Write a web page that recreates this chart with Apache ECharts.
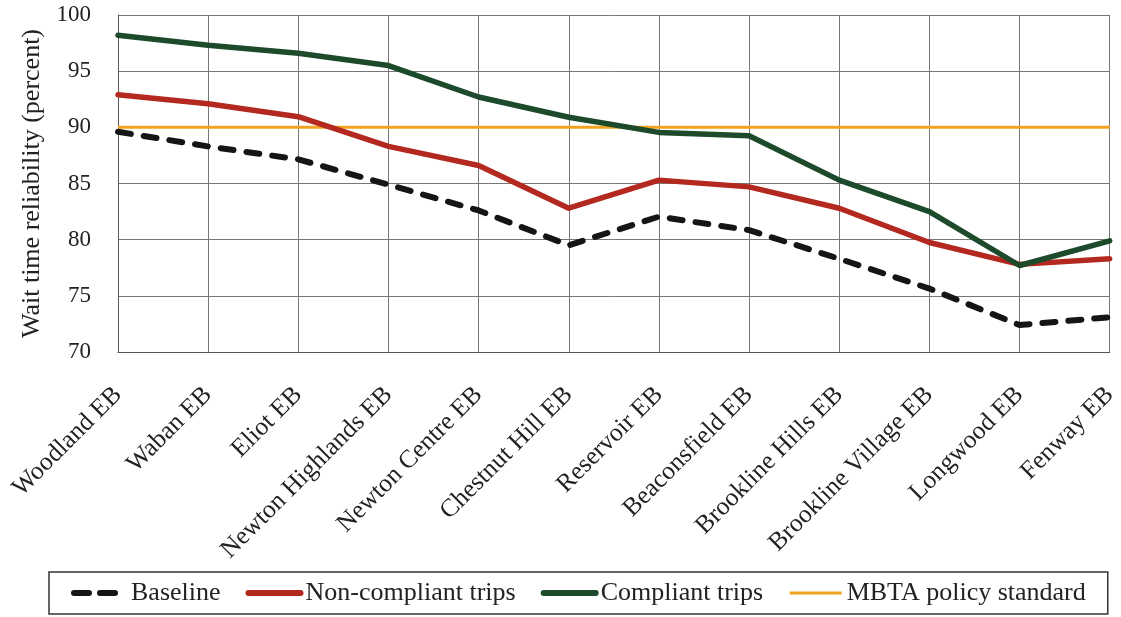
<!DOCTYPE html>
<html>
<head>
<meta charset="utf-8">
<script src="https://cdn.jsdelivr.net/npm/echarts@6/dist/echarts.min.js"></script>
<style>
html,body{margin:0;padding:0;background:#fff;}
#chart{width:1121px;height:617px;}
</style>
</head>
<body>
<div id="chart"></div>
<script>
var categories = ["Woodland EB","Waban EB","Eliot EB","Newton Highlands EB","Newton Centre EB","Chestnut Hill EB","Reservoir EB","Beaconsfield EB","Brookline Hills EB","Brookline Village EB","Longwood EB","Fenway EB"];
var baseline = [89.6, 88.3, 87.15, 84.9, 82.6, 79.5, 82.05, 80.85, 78.3, 75.65, 72.4, 73.1];
var nonCompliant = [92.9, 92.1, 90.95, 88.3, 86.6, 82.8, 85.3, 84.7, 82.8, 79.75, 77.8, 78.3];
var compliant = [98.2, 97.3, 96.6, 95.5, 92.7, 90.9, 89.55, 89.25, 85.3, 82.5, 77.7, 79.9];
var policy = [90, 90, 90, 90, 90, 90, 90, 90, 90, 90, 90, 90];
var yTicks = {min: 70, max: 100, step: 5};
var seriesNames = ["Baseline", "Non-compliant trips", "Compliant trips", "MBTA policy standard"];

var FONT = "'Liberation Serif', 'Times New Roman', serif";
var C_BASE = '#151515', C_NON = '#b3291f', C_COMP = '#1d4a2b', C_POL = '#f2a21e';
var chart = echarts.init(document.getElementById('chart'), null, {renderer: 'canvas'});
chart.setOption({
  animation: false,
  backgroundColor: '#ffffff',
  grid: {left: 118, width: 996, top: 15, bottom: 265, containLabel: false},
  legend: {
    left: 49, top: 572,
    padding: [8, 22, 8, 22],
    borderColor: '#333', borderWidth: 1.5,
    itemWidth: 52, itemHeight: 8, itemGap: 25,
    itemStyle: {opacity: 0},
    textStyle: {fontFamily: FONT, fontSize: 26, color: '#222'},
    data: [
      {name: seriesNames[0], lineStyle: {width: 6, type: [15, 11], cap: 'round', color: C_BASE}},
      {name: seriesNames[1], lineStyle: {width: 6, cap: 'round', color: C_NON}},
      {name: seriesNames[2], lineStyle: {width: 6, cap: 'round', color: C_COMP}},
      {name: seriesNames[3], lineStyle: {width: 3, color: C_POL}}
    ]
  },
  xAxis: {
    type: 'category',
    data: categories,
    boundaryGap: false,
    axisLine: {show: true, lineStyle: {color: '#555', width: 1}},
    axisTick: {show: false},
    splitLine: {show: true, lineStyle: {color: '#777', width: 1}},
    axisLabel: {rotate: 45, margin: 39, fontFamily: FONT, fontSize: 25.5, color: '#222', interval: 0}
  },
  yAxis: {
    type: 'value',
    min: yTicks.min, max: yTicks.max, interval: yTicks.step,
    name: 'Wait time reliability (percent)',
    nameLocation: 'middle', nameRotate: 90, nameGap: 69,
    nameTextStyle: {fontFamily: FONT, fontSize: 26, color: '#222'},
    axisLine: {show: true, lineStyle: {color: '#555', width: 1}},
    axisTick: {show: false},
    splitLine: {show: true, lineStyle: {color: '#777', width: 1}},
    axisLabel: {margin: 27, fontFamily: FONT, fontSize: 23, color: '#222'}
  },
  series: [
    {name: seriesNames[1], type: 'line', data: nonCompliant, symbol: 'none', z: 3,
     lineStyle: {color: C_NON, width: 5.5, cap: 'round', join: 'round'}, itemStyle: {color: C_NON}},
    {name: seriesNames[2], type: 'line', data: compliant, symbol: 'none', z: 4,
     lineStyle: {color: C_COMP, width: 5.5, cap: 'round', join: 'round'}, itemStyle: {color: C_COMP}},
    {name: seriesNames[3], type: 'line', data: policy, symbol: 'none', z: 2,
     lineStyle: {color: C_POL, width: 3}, itemStyle: {color: C_POL}},
    {name: seriesNames[0], type: 'line', data: baseline, symbol: 'none', z: 5,
     lineStyle: {color: C_BASE, width: 6, type: [13, 13], cap: 'round', join: 'round'}, itemStyle: {color: C_BASE}}
  ]
});
</script>
</body>
</html>
